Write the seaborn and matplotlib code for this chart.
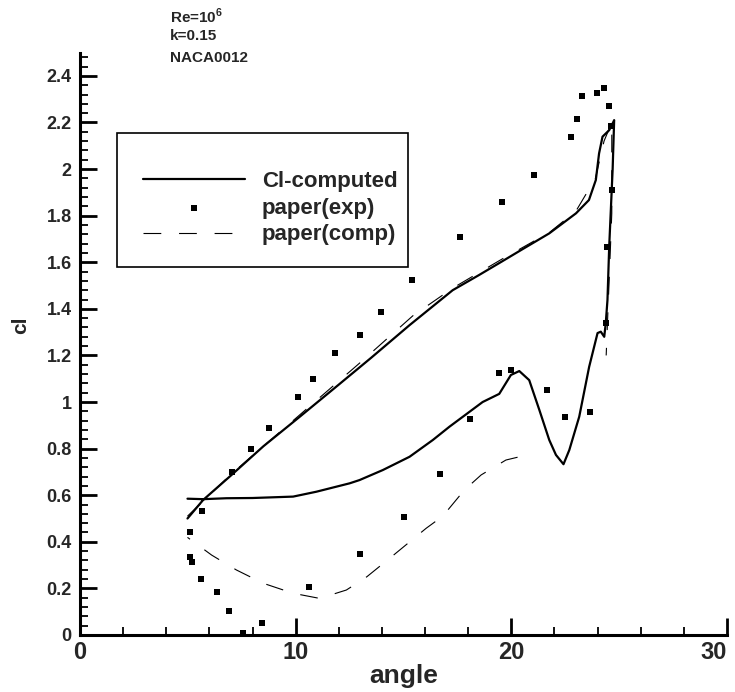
import numpy as np
import pandas as pd
import matplotlib
matplotlib.use("Agg")
import matplotlib.pyplot as plt
import seaborn as sns
from matplotlib.patches import Rectangle
from matplotlib.ticker import MultipleLocator

# Computed lift coefficient over one pitching cycle (upstroke then downstroke)
cl_angle = [4.98, 5.71, 7.0, 8.5, 10.19, 12.0, 13.5, 15.28, 17.28, 18.5, 19.54,
            20.5, 21.76, 23.0, 23.6, 23.92, 24.07, 24.23, 24.54, 24.7, 24.77,
            24.7, 24.54, 24.46, 24.38, 24.31, 24.15, 24.0, 23.61, 23.15, 22.69,
            22.42, 22.07, 21.76, 21.3, 20.83, 20.37, 19.98, 19.44, 18.67, 18.06,
            17.13, 16.36, 15.28, 14.04, 12.96, 12.5, 10.96, 9.88, 8.0, 6.79,
            5.71, 4.98]
cl_value = [0.50, 0.58, 0.685, 0.81, 0.937, 1.075, 1.19, 1.33, 1.48, 1.545,
            1.602, 1.655, 1.724, 1.81, 1.867, 1.953, 2.067, 2.139, 2.167, 2.196,
            2.21, 2.0, 1.667, 1.438, 1.338, 1.28, 1.302, 1.296, 1.151, 0.937,
            0.794, 0.733, 0.773, 0.837, 0.966, 1.094, 1.133, 1.116, 1.035, 1.0,
            0.958, 0.894, 0.837, 0.765, 0.708, 0.665, 0.651, 0.615, 0.594,
            0.588, 0.587, 0.583, 0.585]

# Experimental data points
exp_angle = [5.09, 5.09, 5.17, 5.66, 5.59, 6.33, 6.91, 7.55, 8.44, 7.05, 7.92,
             8.75, 10.1, 10.8, 11.8, 12.96, 13.94, 15.4, 17.64, 19.57, 21.05,
             22.75, 23.04, 23.27, 23.97, 24.32, 24.54, 24.63, 24.65, 24.43,
             24.4, 23.64, 22.49, 21.65, 20.0, 19.44, 18.1, 16.7, 15.0, 12.96,
             10.6]
exp_value = [0.44, 0.336, 0.315, 0.532, 0.24, 0.186, 0.103, 0.01, 0.05, 0.698,
             0.80, 0.887, 1.023, 1.10, 1.21, 1.288, 1.385, 1.524, 1.71, 1.857,
             1.974, 2.139, 2.215, 2.313, 2.325, 2.35, 2.27, 2.186, 1.911, 1.667,
             1.338, 0.957, 0.936, 1.05, 1.137, 1.126, 0.926, 0.691, 0.508,
             0.348, 0.207]

# Published computation (NaN marks a break in the curve)
comp_angle = [4.98, 7.0, 10.5, 13.0, 15.43, 17.3, 19.5, 21.8, 23.0, 23.9, 24.3,
              24.66, 24.66, 24.4, np.nan, 20.29, 19.75, 18.6, 17.82, 16.82,
              16.05, 14.5, 13.3, 12.35, 11.11, 9.88, 8.49, 7.25, 6.1, 4.98]
comp_value = [0.51, 0.69, 0.97, 1.17, 1.37, 1.49, 1.61, 1.73, 1.82, 1.96, 2.12,
              2.2, 1.81, 1.2, np.nan, 0.763, 0.751, 0.687, 0.622, 0.51, 0.458,
              0.34, 0.25, 0.193, 0.157, 0.179, 0.222, 0.279, 0.343, 0.419]

x_ticks = [0, 10, 20, 30]
y_ticks = [0, 0.2, 0.4, 0.6, 0.8, 1, 1.2, 1.4, 1.6, 1.8, 2, 2.2, 2.4]
y_tick_labels = ["0", "0.2", "0.4", "0.6", "0.8", "1", "1.2", "1.4", "1.6",
                 "1.8", "2", "2.2", "2.4"]

sns.set_theme(style="ticks")
plt.rcParams["font.family"] = ["Liberation Sans", "DejaVu Sans"]
plt.rcParams["font.weight"] = "bold"
plt.rcParams["mathtext.fontset"] = "custom"
plt.rcParams["mathtext.rm"] = "Liberation Sans:bold"
plt.rcParams["mathtext.bf"] = "Liberation Sans:bold"

fig = plt.figure(figsize=(7.35, 6.92), dpi=100)
ax = fig.add_axes([0.109, 0.0824, 0.880, 0.8416])

computed = pd.DataFrame({"angle": cl_angle, "cl": cl_value})
experiment = pd.DataFrame({"angle": exp_angle, "cl": exp_value})
paper_comp = pd.DataFrame({"angle": comp_angle, "cl": comp_value})

sns.lineplot(data=computed, x="angle", y="cl", sort=False, estimator=None,
             color="black", lw=1.6, ax=ax, label="Cl-computed")
sns.scatterplot(data=experiment, x="angle", y="cl", marker="s", s=22,
                color="black", edgecolor="black", linewidth=0, ax=ax,
                label="paper(exp)")
ax.plot(paper_comp["angle"], paper_comp["cl"], color="black", lw=0.8,
        dashes=(16, 16), label="paper(comp)")

ax.set_xlim(0, 30)
ax.set_ylim(0, 2.5)
ax.set_xticks(x_ticks)
ax.set_xticklabels([str(t) for t in x_ticks])
ax.set_yticks(y_ticks)
ax.set_yticklabels(y_tick_labels)
ax.xaxis.set_minor_locator(MultipleLocator(2))
ax.yaxis.set_minor_locator(MultipleLocator(0.04))

for side in ("top", "right"):
    ax.spines[side].set_visible(False)
for side in ("left", "bottom"):
    ax.spines[side].set_linewidth(2.2)
    ax.spines[side].set_color("black")

ax.tick_params(axis="both", which="major", direction="in", length=12,
               width=2, color="black")
ax.tick_params(axis="both", which="minor", direction="in", length=6,
               width=1.3, color="black")
ax.tick_params(axis="x", labelsize=17, pad=4)
ax.tick_params(axis="y", labelsize=13, pad=6)
for lab in ax.get_xticklabels() + ax.get_yticklabels():
    lab.set_fontweight("bold")
ax.get_xticklabels()[-1].set_horizontalalignment("right")

ax.set_xlabel("angle", fontsize=19, fontweight="bold", labelpad=0)
ax.set_ylabel("cl", fontsize=15, fontweight="bold")
ax.yaxis.set_label_coords(-0.077, 0.532)

# legend entries without frame, boxed by a separate rectangle
leg = ax.legend(loc="upper left", bbox_to_anchor=(0.0974, 0.797),
                frameon=False, prop={"size": 16, "weight": "bold"},
                handlelength=4.6, handletextpad=0.75, labelspacing=0.26,
                borderpad=0, borderaxespad=0)
ax.add_patch(Rectangle((0.0572, 0.632), 0.4498, 0.230, transform=ax.transAxes,
                       fill=False, edgecolor="black", lw=1.2, zorder=5,
                       clip_on=False))

fig.text(170 / 735, 1 - 23 / 692, r"Re=10$^\mathbf{6}$", fontsize=11,
         fontweight="bold", va="baseline", ha="left")
fig.text(170 / 735, 1 - 40 / 692, "k=0.15", fontsize=11, fontweight="bold",
         va="baseline", ha="left")
fig.text(170 / 735, 1 - 62 / 692, "NACA0012", fontsize=11, fontweight="bold",
         va="baseline", ha="left")

fig.savefig("out.png", dpi=100, facecolor="white")
